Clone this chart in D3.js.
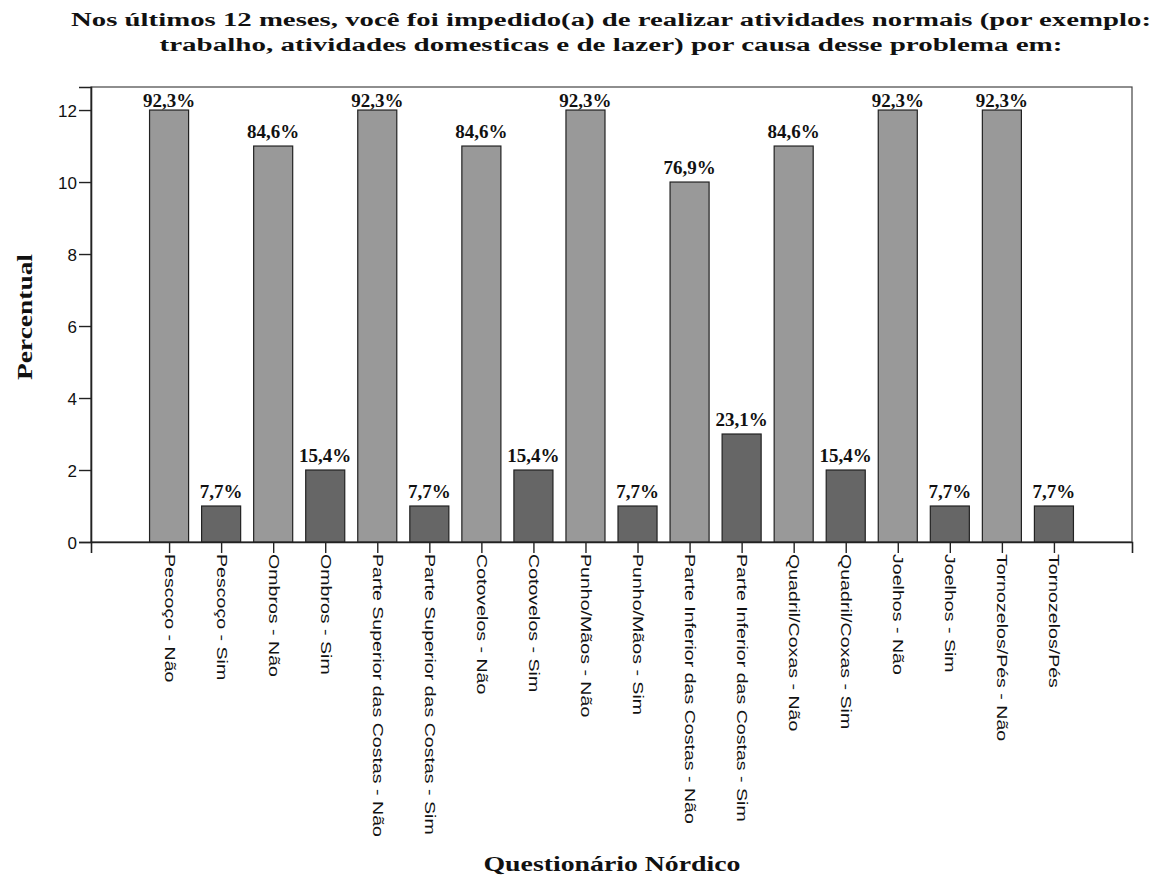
<!DOCTYPE html>
<html><head><meta charset="utf-8">
<script src="https://cdn.jsdelivr.net/npm/d3@7"></script>
<style>body{margin:0;background:#fff}svg{display:block}</style>
</head><body>
<svg id="chart" width="1152" height="881"></svg>
<script>
const categories = ["Pescoço - Não","Pescoço - Sim","Ombros - Não","Ombros - Sim",
 "Parte Superior das Costas - Não","Parte Superior das Costas - Sim","Cotovelos - Não","Cotovelos - Sim",
 "Punho/Mãos - Não","Punho/Mãos - Sim","Parte Inferior das Costas - Não","Parte Inferior das Costas - Sim",
 "Quadril/Coxas - Não","Quadril/Coxas - Sim","Joelhos - Não","Joelhos - Sim","Tornozelos/Pés - Não","Tornozelos/Pés"];
const values = [12,1,11,2,12,1,11,2,12,1,10,3,11,2,12,1,12,1];
const labels = ["92,3%","7,7%","84,6%","15,4%","92,3%","7,7%","84,6%","15,4%","92,3%","7,7%","76,9%","23,1%","84,6%","15,4%","92,3%","7,7%","92,3%","7,7%"];
const groups = ["Não","Sim","Não","Sim","Não","Sim","Não","Sim","Não","Sim","Não","Sim","Não","Sim","Não","Sim","Não","Sim"];
const yTicks = [0,2,4,6,8,10,12];
const titleLines = ["Nos últimos 12 meses, você foi impedido(a) de realizar atividades normais (por exemplo:",
 "trabalho, atividades domesticas e de lazer) por causa desse problema em:"];
const yTitle = "Percentual";
const xTitle = "Questionário Nórdico";

const svg = d3.select("#chart");
const L = 91, R = 1132, T = 87, B = 542;
const x = d3.scalePoint().domain(d3.range(categories.length)).range([L, R]).padding(1.5);
const y = d3.scaleLinear().domain([0, 12.64]).range([B, T]);
const bw = x.step() * 0.75;
const color = d3.scaleOrdinal().domain(["Não","Sim"]).range(["#999999","#666666"]);

// frame
svg.append("rect").attr("x", L).attr("y", T).attr("width", R - L).attr("height", B - T)
  .attr("fill", "none").attr("stroke", "#444").attr("stroke-width", 1.2);

// bars
svg.append("g").selectAll("rect").data(values).join("rect")
  .attr("x", (d, i) => x(i) - bw / 2).attr("y", d => y(d))
  .attr("width", bw).attr("height", d => y(0) - y(d))
  .attr("fill", (d, i) => color(groups[i])).attr("stroke", "#222").attr("stroke-width", 1.2);

// value labels
svg.append("g").selectAll("text").data(values).join("text")
  .attr("x", (d, i) => x(i)).attr("y", d => Math.max(y(d) - 8, T + 20))
  .attr("text-anchor", "middle").attr("font-family", "'Liberation Serif','Times New Roman',serif")
  .attr("font-weight", "bold").attr("font-size", 19).attr("fill", "#111")
  .text((d, i) => labels[i]);

// y axis
const yAxis = svg.append("g").attr("transform", `translate(${L},0)`)
  .call(d3.axisLeft(y).tickValues(yTicks).tickSize(12).tickPadding(2));
yAxis.select(".domain").attr("stroke", "#222").attr("stroke-width", 1.6);
yAxis.selectAll(".tick line").attr("stroke", "#222").attr("stroke-width", 1.4);
yAxis.selectAll(".tick text").attr("font-family", "'Liberation Sans',Arial,sans-serif")
  .attr("font-size", 17).attr("fill", "#111").attr("dy", "0.36em");

// x axis
const xAxis = svg.append("g").attr("transform", `translate(0,${B})`)
  .call(d3.axisBottom(x).tickSize(11).tickFormat(""));
xAxis.select(".domain").attr("stroke", "#222").attr("stroke-width", 1.6);
xAxis.selectAll(".tick line").attr("stroke", "#222").attr("stroke-width", 1.4);

// x category labels
svg.append("g").selectAll("text").data(categories).join("text")
  .attr("transform", (d, i) => `translate(${x(i)},${B + 12}) rotate(90) scale(1.4,1)`)
  .attr("text-anchor", "start").attr("dominant-baseline", "central")
  .attr("font-family", "'Liberation Sans',Arial,sans-serif").attr("font-size", 14).attr("fill", "#111")
  .text(d => d);

// title
const tl = svg.append("g").attr("font-family", "'Liberation Serif','Times New Roman',serif")
  .attr("font-weight", "bold").attr("font-size", 18).attr("fill", "#111").attr("text-anchor", "middle");
const tLens = [1080, 903];
const tY = [26, 51];
titleLines.forEach((t, i) => {
  tl.append("text").attr("x", 611).attr("y", tY[i]).attr("textLength", tLens[i])
    .attr("lengthAdjust", "spacingAndGlyphs").text(t);
});

// axis titles
svg.append("text").attr("transform", "translate(32,317) rotate(-90)")
  .attr("text-anchor", "middle").attr("font-family", "'Liberation Serif','Times New Roman',serif")
  .attr("font-weight", "bold").attr("font-size", 21).attr("fill", "#111")
  .attr("textLength", 126).attr("lengthAdjust", "spacingAndGlyphs").text(yTitle);
svg.append("text").attr("x", 612).attr("y", 871)
  .attr("text-anchor", "middle").attr("font-family", "'Liberation Serif','Times New Roman',serif")
  .attr("font-weight", "bold").attr("font-size", 21).attr("fill", "#111")
  .attr("textLength", 257).attr("lengthAdjust", "spacingAndGlyphs").text(xTitle);
</script>
</body></html>
